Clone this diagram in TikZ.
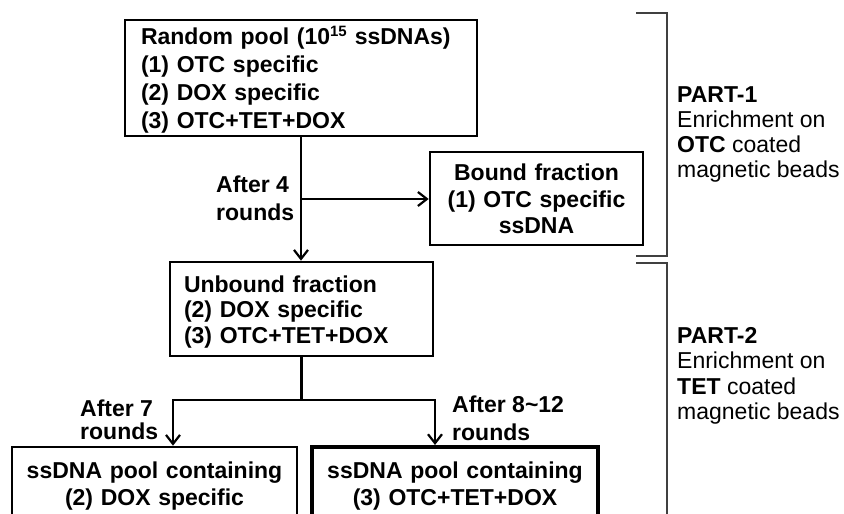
\documentclass[tikz,border=0pt]{standalone}
\usepackage{fontspec}
\setmainfont{Liberation Sans}
\usetikzlibrary{arrows.meta}
\newcommand\Tt{\rule{0pt}{22pt}}
\newcommand\Bb{\rule[-5pt]{0pt}{5pt}}
\begin{document}
\begin{tikzpicture}[x=1pt,y=-1pt,
  box/.style={draw, line width=2.6pt, inner ysep=0pt},
  bfont/.style={font=\bfseries\fontsize{23}{#1}\selectfont},
  arr/.style={line width=2.6pt, -{Straight Barb[length=9pt,width=14pt,line width=2.2pt]}},
  ln/.style={line width=2.6pt},
  brk/.style={line width=1.6pt, draw=black!75},
  lbl/.style={inner sep=0pt, anchor=north west, align=left},
  part/.style={inner sep=0pt, anchor=north west, align=left, font=\fontsize{23}{#1}\selectfont}]
\useasboundingbox (0,0) rectangle (844,514);
\clip (0,0) rectangle (844,514);

% boxes
\node[box, bfont=27.7, text width=320pt, inner xsep=16pt, minimum height=116pt, align=left] (pool) at (301,78)
  {\Tt Random pool (10\raisebox{8pt}{\fontsize{15}{15}\selectfont 15}\hspace{8pt}ssDNAs)\\(1) OTC specific\\(2) DOX specific\\(3) OTC+TET+DOX\Bb};
\node[box, bfont=26.5, text width=201pt, inner xsep=6pt, minimum height=93pt, align=center] (bound) at (536.5,198.5)
  {\Tt Bound fraction\\(1) OTC specific\\ssDNA\Bb};
\node[box, bfont=25.5, text width=235pt, inner xsep=14pt, minimum height=94pt, align=left] (unbound) at (301.5,309)
  {\Tt Unbound fraction\\(2) DOX specific\\(3) OTC+TET+DOX\Bb};
\node[box, bfont=27, text width=273pt, inner xsep=6pt, minimum height=72pt, align=center] (ssl) at (154.5,483)
  {\Tt ssDNA pool containing\\(2) DOX specific\Bb};
\node[box, line width=4pt, bfont=27, text width=274pt, inner xsep=6pt, minimum height=72pt, align=center] (ssr) at (455,483)
  {\Tt ssDNA pool containing\\(3) OTC+TET+DOX\Bb};

% connectors
\coordinate (br) at (301,199);
\coordinate (jn) at (301.5,400);
\draw[arr] (pool.south) -- (pool.south |- unbound.north);
\draw[arr] (br) -- (br -| bound.west);
\draw[ln] (unbound.south) -- (jn);
\draw[arr] (jn) -| ([xshift=18.5pt]ssl.north);
\draw[arr] (jn) -| ([xshift=-20pt]ssr.north);

% arrow labels
\node[lbl, bfont=28] (l4) at (216,170) {\Tt After 4\\rounds};
\node[lbl, bfont=23.5] (l7) at (80,394) {\Tt After 7\\rounds};
\node[lbl, bfont=28] (l812) at (452,390) {\Tt After 8\textasciitilde 12\\rounds};

% brackets
\draw[brk] (636,13) -- (667,13) -- (667,256) -- (636,256);
\draw[brk] (636,263) -- (667,263) -- (667,530);

% part labels
\node[part=25] (p1) at (677,80) {\Tt\textbf{PART-1}\\Enrichment on\\\textbf{OTC} coated\\magnetic beads};
\node[part=25.5] (p2) at (677,321) {\Tt\textbf{PART-2}\\Enrichment on\\\textbf{TET} coated\\magnetic beads};
\end{tikzpicture}
\end{document}
